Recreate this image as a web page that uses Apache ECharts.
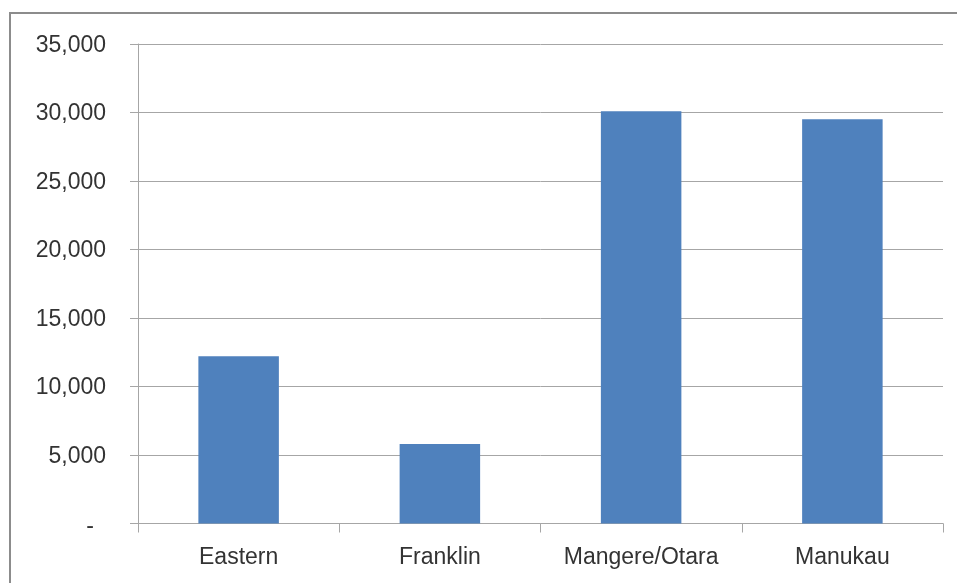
<!DOCTYPE html>
<html>
<head>
<meta charset="utf-8">
<script src="https://cdn.jsdelivr.net/npm/echarts@6/dist/echarts.min.js"></script>
<style>
  html, body { margin: 0; padding: 0; background: #fff; }
  #chart { width: 957px; height: 583px; }
</style>
</head>
<body>
<div id="chart"></div>
<script>
// Localities and their counts
const categories = ['Eastern', 'Franklin', 'Mangere/Otara', 'Manukau'];
const values = [12200, 5800, 30100, 29500];
const yTicks = [0, 5000, 10000, 15000, 20000, 25000, 30000, 35000];

const gridColor = '#a6a6a6';
const textColor = '#333333';
const font = '"Liberation Sans", Arial, sans-serif';

const chart = echarts.init(document.getElementById('chart'), null, { renderer: 'canvas' });

chart.setOption({
  animation: false,
  backgroundColor: '#ffffff',
  graphic: [{
    type: 'rect',
    shape: { x: 10, y: 13, width: 1000, height: 700 },
    style: { fill: 'none', stroke: '#8c8c8c', lineWidth: 2 },
    z: 0
  }],
  grid: { left: 138, right: 14, top: 44, bottom: 59.5, containLabel: false },
  xAxis: {
    type: 'category',
    data: categories,
    boundaryGap: true,
    axisLine: { show: true, lineStyle: { color: gridColor, width: 1 } },
    axisTick: { show: true, length: 9, alignWithLabel: false, lineStyle: { color: gridColor } },
    axisLabel: { color: textColor, fontFamily: font, fontSize: 23, margin: 23 },
    splitLine: { show: false }
  },
  yAxis: {
    type: 'value',
    min: yTicks[0],
    max: yTicks[yTicks.length - 1],
    interval: 5000,
    axisLine: { show: true, lineStyle: { color: gridColor, width: 1 } },
    axisTick: { show: true, length: 8, lineStyle: { color: gridColor } },
    axisLabel: {
      color: textColor,
      fontFamily: font,
      fontSize: 23,
      margin: 32,
      padding: [3, 0, 0, 0],
      formatter: function (v) {
        if (v === 0) return '{dash|-}';
        return v.toLocaleString('en-US');
      },
      rich: {
        dash: { color: textColor, fontFamily: font, fontSize: 23, padding: [3, 12, 0, 0] }
      }
    },
    splitLine: { show: true, lineStyle: { color: gridColor, width: 1 } }
  },
  series: [{
    type: 'bar',
    data: values,
    barWidth: '40%',
    itemStyle: { color: '#4f81bd' }
  }]
});
</script>
</body>
</html>
